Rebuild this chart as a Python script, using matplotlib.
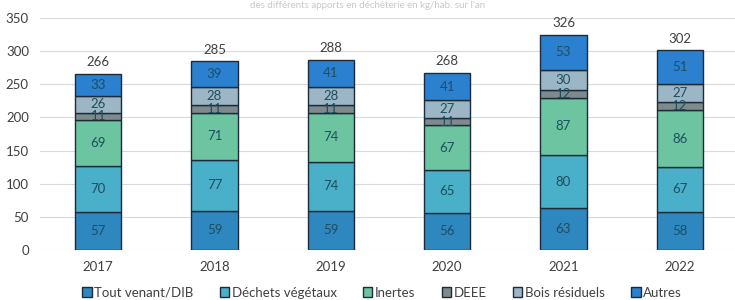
import matplotlib
matplotlib.use("Agg")
import matplotlib.pyplot as plt
import numpy as np

years = ["2017", "2018", "2019", "2020", "2021", "2022"]
series_names = ["Tout venant/DIB", "Déchets végétaux", "Inertes", "DEEE", "Bois résiduels", "Autres"]
tout_venant = [57, 59, 59, 56, 63, 58]
dechets_veg = [70, 77, 74, 65, 80, 67]
inertes = [69, 71, 74, 67, 87, 86]
deee = [11, 11, 11, 11, 12, 12]
bois = [26, 28, 28, 27, 30, 27]
autres = [33, 39, 41, 41, 53, 51]
totals = [266, 285, 288, 268, 326, 302]

colors = ["#2f87c0", "#4aafc8", "#6cc5a0", "#7f8a8c", "#9cb6c6", "#2c80d0"]

plt.rcParams['font.family'] = ['Lato', 'DejaVu Sans']

fig = plt.figure(figsize=(7.35, 3.0), dpi=100)
ax = fig.add_axes([40/735, 50/300, 698/735, 232/300])

x = np.arange(len(years))
bottom = np.zeros(len(years))
all_series = [tout_venant, dechets_veg, inertes, deee, bois, autres]
for name, vals, col in zip(series_names, all_series, colors):
    vals = np.array(vals, dtype=float)
    ax.bar(x, vals, 0.4, bottom=bottom, color=col, edgecolor="#1c2b3a",
           linewidth=1.0, label=name, zorder=3)
    for xi, b, v in zip(x, bottom, vals):
        ax.text(xi, b + v / 2, f"{int(v)}", ha="center", va="center",
                fontsize=9.5, color="#1d4f5e", zorder=4)
    bottom += vals

for xi, b, t in zip(x, bottom, totals):
    ax.annotate(f"{t}", (xi, b), xytext=(0, 4), textcoords="offset points",
                ha="center", va="bottom", fontsize=9.5, color="#404040")

ax.set_ylim(0, 350)
ax.set_xlim(-0.5, 5.5)
ax.set_yticks(np.arange(0, 351, 50))
ax.set_xticks(x)
ax.set_xticklabels(years)
ax.yaxis.grid(True, color="#d9d9d9", linewidth=0.8, zorder=0)
for s in ax.spines.values():
    s.set_visible(False)
ax.tick_params(axis="both", length=0, labelsize=9.5, colors="#404040")
ax.tick_params(axis="y", pad=8)
ax.tick_params(axis="x", pad=8)

fig.text(0.5, 0.998, "des différents apports en déchèterie en kg/hab. sur l'an",
         ha="center", va="top", fontsize=7, color="#c8c8c8")

handles, labels = ax.get_legend_handles_labels()
fig.legend(handles, labels, loc="lower center", bbox_to_anchor=(0.52, -0.035), ncol=6,
           frameon=False, fontsize=9.5, handlelength=0.7, handleheight=0.7,
           handletextpad=0.2, columnspacing=2.0, labelcolor="#404040")

fig.savefig("out.png", dpi=100, facecolor="white")
